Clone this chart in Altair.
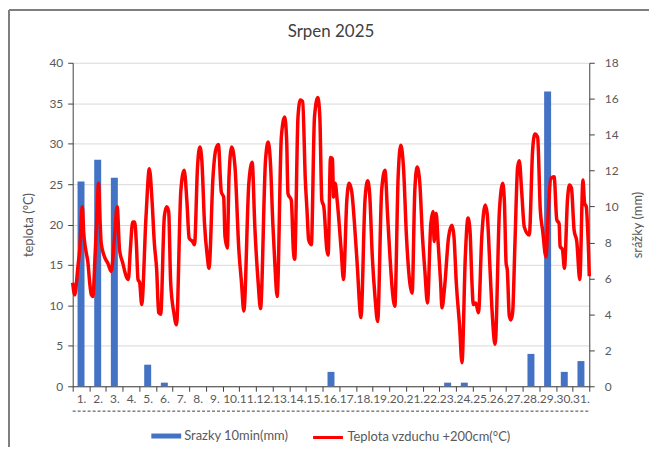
import altair as alt
import pandas as pd

# ---------------- data ----------------
days = list(range(1, 32))
rain_mm = [11.4, 12.6, 11.6, 0, 1.2, 0.2, 0, 0, 0, 0, 0, 0, 0, 0, 0, 0.8,
           0, 0, 0, 0, 0, 0, 0.2, 0.2, 0, 0, 0, 1.8, 16.4, 0.8, 1.4]

# time in days from 1 Aug 00:00, temperature in degC
temp_t = [0.00, 0.12, 0.32, 0.42, 0.58, 0.66, 0.78, 0.92, 1.02, 1.12, 1.21,
          1.35, 1.45, 1.55, 1.65, 1.71, 1.91, 2.11, 2.31, 2.51, 2.67, 2.81,
          3.01, 3.21, 3.34, 3.46, 3.60, 3.72, 3.82, 3.92, 4.02, 4.14, 4.40,
          4.60, 4.76, 4.90, 5.04, 5.16, 5.28, 5.50, 5.64, 5.76, 5.88, 6.07,
          6.23, 6.49, 6.69, 6.85, 6.99, 7.19, 7.31, 7.49, 7.63, 7.75, 7.91,
          8.08, 8.18, 8.42, 8.58, 8.74, 8.92, 9.06, 9.14, 9.28, 9.38, 9.54,
          9.74, 9.97, 10.13, 10.27, 10.57, 10.77, 10.93, 11.13, 11.27, 11.57,
          11.73, 11.87, 12.01, 12.13, 12.27, 12.52, 12.72, 12.84, 12.92, 13.12,
          13.24, 13.32, 13.52, 13.66, 13.80, 13.96, 14.06, 14.16, 14.32, 14.51,
          14.71, 14.83, 14.95, 15.07, 15.25, 15.33, 15.47, 15.59, 15.65, 15.75,
          15.87, 16.11, 16.25, 16.45, 16.59, 16.75, 16.91, 17.07, 17.30, 17.54,
          17.70, 17.82, 17.98, 18.14, 18.30, 18.54, 18.74, 18.90, 19.04, 19.18,
          19.33, 19.53, 19.69, 19.85, 20.03, 20.23, 20.37, 20.53, 20.67, 20.83,
          20.99, 21.13, 21.29, 21.49, 21.63, 21.69, 21.81, 21.93, 22.08, 22.16,
          22.32, 22.56, 22.76, 22.88, 23.02, 23.22, 23.36, 23.56, 23.72, 23.84,
          23.96, 24.04, 24.19, 24.35, 24.55, 24.75, 24.87, 25.01, 25.15, 25.35,
          25.61, 25.81, 25.91, 26.01, 26.08, 26.20, 26.30, 26.40, 26.54, 26.70,
          26.80, 26.94, 27.10, 27.40, 27.60, 27.74, 27.90, 28.06, 28.20, 28.40,
          28.55, 28.69, 28.89, 29.05, 29.19, 29.25, 29.39, 29.51, 29.69, 29.81,
          29.93, 30.09, 30.25, 30.43, 30.62, 30.72, 30.82, 30.90, 30.96, 31.00]
temp_c = [12.8, 11.3, 14.9, 16.9, 22.2, 19.0, 16.9, 15.2, 12.8, 11.3, 11.1,
          16.5, 21.0, 25.1, 20.1, 17.7, 16.0, 15.2, 14.2, 18.5, 22.2, 16.9,
          15.2, 13.6, 13.2, 16.9, 20.3, 20.3, 17.7, 13.2, 12.8, 10.1, 21.0,
          26.9, 23.0, 17.7, 14.4, 9.1, 8.9, 21.0, 22.2, 21.6, 12.8, 9.1,
          7.6, 24.2, 26.7, 23.0, 18.3, 17.9, 17.5, 27.1, 29.6, 27.9, 20.1,
          16.0, 14.6, 25.9, 29.2, 29.9, 24.0, 23.4, 18.5, 17.1, 25.9, 29.6,
          27.1, 16.9, 12.8, 9.3, 25.1, 27.7, 19.7, 12.8, 9.6, 27.9,
          30.2, 27.5, 20.1, 15.2, 11.1, 30.8, 33.3, 30.4, 23.8, 23.0,
          16.9, 15.7, 33.3, 35.4, 35.2, 25.5, 21.8, 18.1, 17.5, 33.3,
          35.7, 33.3, 23.0, 22.2, 16.9, 16.2, 28.3, 28.1, 23.4, 25.1,
          23.0, 16.9, 13.2, 23.0, 25.1, 24.0, 20.1, 15.2, 8.5, 23.0,
          25.4, 23.8, 16.0, 11.1, 8.0, 24.2, 26.7, 21.0, 16.0, 11.9,
          9.9, 25.9, 29.8, 27.1, 18.5, 12.8, 11.5, 24.2, 27.1, 25.1,
          18.5, 14.4, 10.3, 20.1, 21.6, 17.9, 21.4, 17.7, 12.8, 9.7,
          12.3, 18.5, 19.9, 18.5, 12.8, 7.4, 2.9, 16.0, 20.8, 19.3,
          12.8, 10.1, 10.3, 9.1, 18.5, 22.4, 21.4, 16.0, 9.9, 5.2,
          21.8, 25.1, 22.6, 15.2, 14.4, 8.7, 8.2, 9.1, 17.7, 27.1,
          27.9, 24.2, 19.7, 18.7, 29.2, 31.2, 30.8, 21.8, 19.3, 16.0,
          22.0, 25.7, 25.9, 20.6, 20.1, 17.3, 16.9, 14.6, 23.0, 24.9,
          24.5, 19.3, 17.9, 13.2, 25.5, 22.6, 22.2, 19.5, 16.5, 13.6]

bar_name = "Srazky 10min(mm)"
line_name = "Teplota vzduchu +200cm(°C)"

# ---------------- chart ----------------
W, H = 519, 325
FONT = "Lato"
TXT = "#595959"
AX = "#404040"

rain_df = pd.DataFrame({"day": [d - 0.5 for d in days], "mm": rain_mm, "s": bar_name})
rain_df = rain_df[rain_df["mm"] > 0]
temp_df = pd.DataFrame({"t": temp_t, "c": temp_c, "s": line_name})

xscale = alt.Scale(domain=[0, 31], nice=False, zero=False, padding=0)

# label axis: labels centred on each day, no ticks
label_axis = alt.Axis(
    orient="bottom", values=[d - 0.5 for d in days],
    labelExpr="(datum.value + 0.5) + '.'",
    labelAlign="center", labelFlush=False, labelOverlap=False,
    ticks=False, domain=False, grid=False, title=None,
    labelColor=TXT, labelFontSize=12, labelPadding=7, labelFont=FONT,
)
# tick axis: ticks at day boundaries, no labels
tick_axis = alt.Axis(
    orient="bottom", values=list(range(32)), labels=False, tickSize=5,
    grid=False, title=None, domainColor=AX, tickColor=AX,
)

bars = alt.Chart(rain_df).mark_bar(size=7).encode(
    x=alt.X("day:Q", scale=xscale, axis=label_axis),
    y=alt.Y("mm:Q", scale=alt.Scale(domain=[0, 18], nice=False),
            axis=alt.Axis(orient="right", values=list(range(0, 19, 2)),
                          title="srážky (mm)", titleAngle=270, grid=False,
                          tickSize=5, labelPadding=10, titlePadding=27,
                          domainColor=AX, tickColor=AX, labelColor=TXT,
                          titleColor=TXT, labelFontSize=12, titleFontSize=13,
                          titleFontWeight="normal", labelFont=FONT, titleFont=FONT)),
    fill=alt.Fill("s:N", scale=alt.Scale(domain=[bar_name], range=["#4472C4"]),
                  legend=alt.Legend(orient="none", legendX=79, legendY=360, title=None,
                                    symbolType="M-1,-0.167H1V0.167H-1Z", symbolSize=900,
                                    symbolStrokeWidth=0, labelFontSize=13, labelColor=TXT,
                                    labelFont=FONT, labelOffset=3, labelLimit=300)),
)

line = alt.Chart(temp_df).mark_line(strokeWidth=3.5, interpolate="monotone").encode(
    x=alt.X("t:Q", scale=xscale, axis=tick_axis),
    y=alt.Y("c:Q", scale=alt.Scale(domain=[0, 40], nice=False),
            axis=alt.Axis(orient="left", values=list(range(0, 41, 5)),
                          title="teplota (°C)", grid=True, gridColor="#d9d9d9",
                          tickSize=5, labelPadding=5, titlePadding=13,
                          domainColor=AX, tickColor=AX, labelColor=TXT,
                          titleColor=TXT, labelFontSize=12, titleFontSize=13,
                          titleFontWeight="normal", labelFont=FONT, titleFont=FONT)),
    stroke=alt.Stroke("s:N", scale=alt.Scale(domain=[line_name], range=["#FF0000"]),
                      legend=alt.Legend(orient="none", legendX=240, legendY=360, title=None,
                                        symbolType="stroke", symbolSize=900,
                                        symbolStrokeWidth=3, labelFontSize=13,
                                        labelColor=TXT, labelFont=FONT, labelOffset=3,
                                        labelLimit=300)),
)

dash = alt.Chart(pd.DataFrame({"a": [0]})).mark_rule(
    color=AX, strokeDash=[3, 2], strokeWidth=1
).encode(x=alt.value(0), x2=alt.value(W), y=alt.value(H + 25))

frame_left = alt.Chart(pd.DataFrame({"a": [0]})).mark_rule(
    color="#7f7f7f", strokeWidth=2
).encode(x=alt.value(-64), y=alt.value(-53), y2=alt.value(H + 70))
frame_top = alt.Chart(pd.DataFrame({"a": [0]})).mark_rule(
    color="#7f7f7f", strokeWidth=2
).encode(x=alt.value(-64), x2=alt.value(W + 80), y=alt.value(-53))

chart = alt.layer(bars, line, dash, frame_left, frame_top).resolve_scale(
    y="independent", fill="independent", stroke="independent"
).resolve_axis(x="independent").properties(
    width=W, height=H,
    title=alt.Title("Srpen 2025", fontSize=17, color=AX, font=FONT,
                    fontWeight="normal", offset=0, dy=32),
    autosize=alt.AutoSizeParams(type="none"),
    padding={"left": 65, "top": 54, "right": 60, "bottom": 60},
).configure_view(stroke=None)

chart.save("out.html", embed_options={"renderer": "svg", "actions": False})
